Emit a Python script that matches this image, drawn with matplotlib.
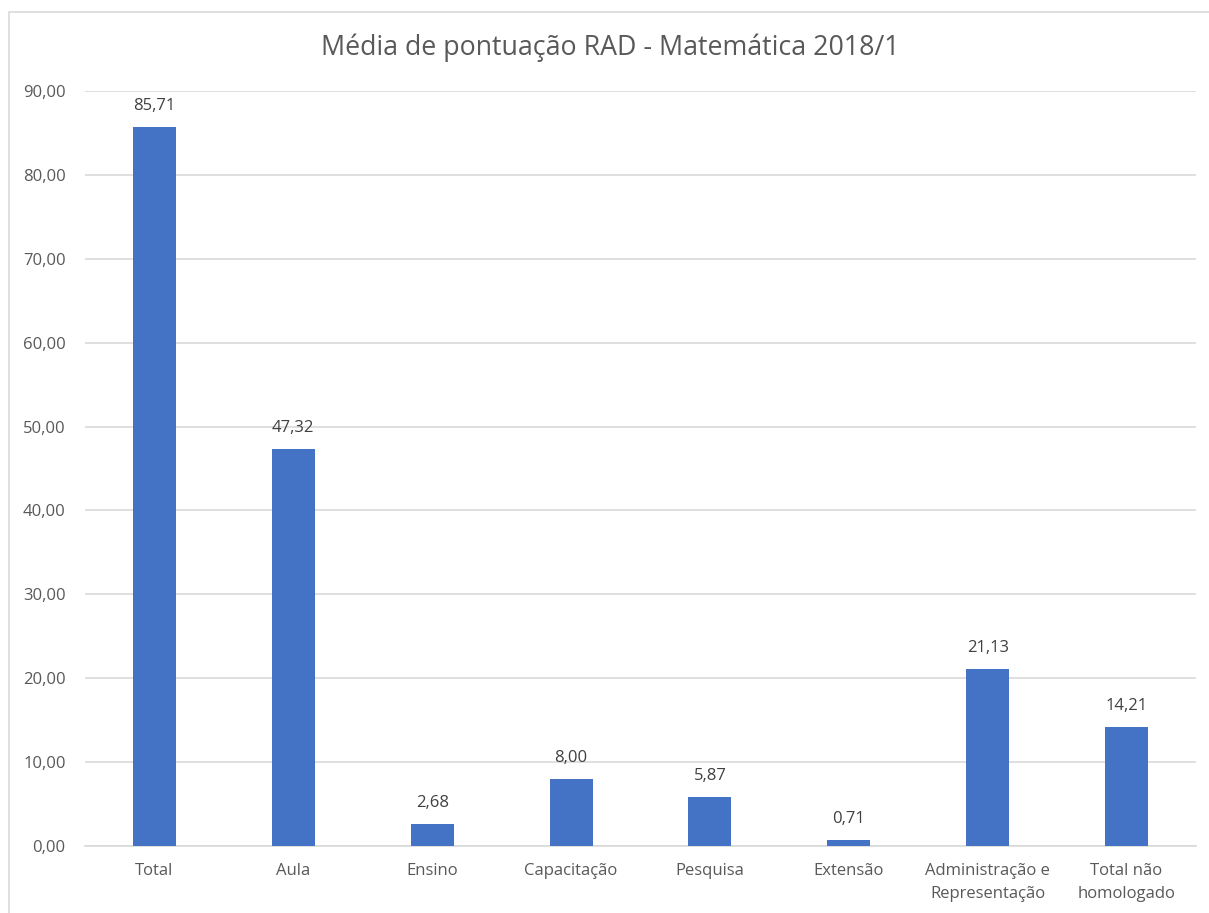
import matplotlib.pyplot as plt
from matplotlib.patches import Rectangle

categories = ["Total", "Aula", "Ensino", "Capacitação", "Pesquisa", "Extensão",
              "Administração e\nRepresentação", "Total não\nhomologado"]
values = [85.71, 47.32, 2.68, 8.00, 5.87, 0.71, 21.13, 14.21]
yticks = [0, 10, 20, 30, 40, 50, 60, 70, 80, 90]

plt.rcParams['font.family'] = ['Open Sans', 'DejaVu Sans']

fig = plt.figure(figsize=(12.09, 9.13), dpi=100)
ax = fig.add_axes([85 / 1209, (913 - 846) / 913, 1111 / 1209, (846 - 91) / 913])

# outer chart border (cut off at right and bottom, like the screenshot)
fig.patches.append(Rectangle((9 / 1209, -0.05), 1.05, (913 - 12) / 913 + 0.05,
                             transform=fig.transFigure, fill=False,
                             edgecolor='#d9d9d9', linewidth=1.2))

x = range(len(categories))
bars = ax.bar(x, values, width=0.31, color='#4472c4', zorder=3)

for b, v in zip(bars, values):
    ax.text(b.get_x() + b.get_width() / 2, v + 1.5, f"{v:.2f}".replace('.', ','),
            ha='center', va='bottom', fontsize=12, color='#404040')

ax.set_xlim(-0.5, len(categories) - 0.5)
ax.set_ylim(0, 90)
ax.set_yticks(yticks)
ax.set_yticklabels([f"{t:.2f}".replace('.', ',') for t in yticks])
ax.set_xticks(list(x))
ax.set_xticklabels(categories, linespacing=1.6)
ax.tick_params(axis='both', length=0, labelsize=12, labelcolor='#595959')
ax.tick_params(axis='y', pad=14)
ax.tick_params(axis='x', pad=12)

ax.grid(axis='y', color='#d9d9d9', linewidth=1.2, zorder=0)
for s in ['top', 'right', 'left']:
    ax.spines[s].set_visible(False)
ax.spines['bottom'].set_color('#d9d9d9')
ax.spines['bottom'].set_linewidth(1.2)

fig.text(0.5 + 6 / 1209, 1 - 48 / 913, "Média de pontuação RAD - Matemática 2018/1",
         ha='center', va='center', fontsize=19.3, color='#595959')

fig.savefig("out.png", dpi=100)
